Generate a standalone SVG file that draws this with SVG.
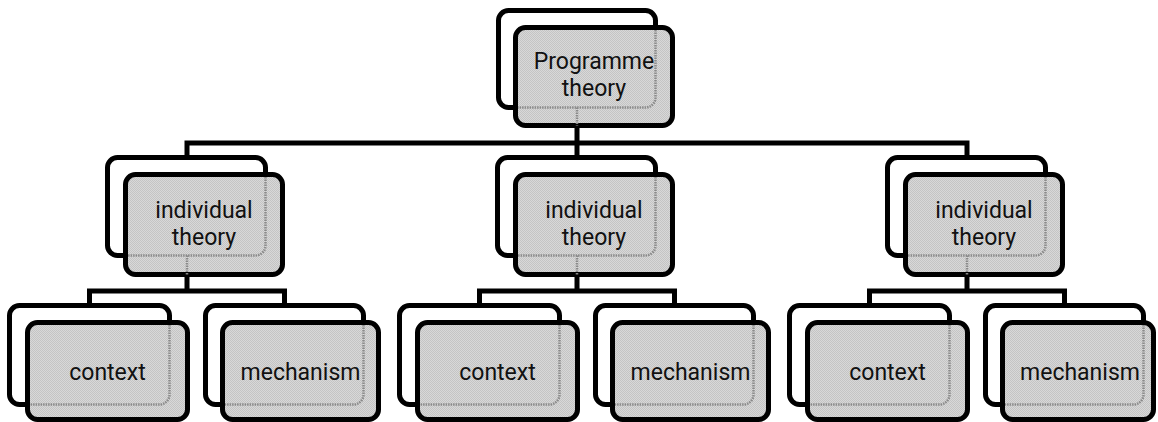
<svg xmlns="http://www.w3.org/2000/svg" width="1158" height="422" viewBox="0 0 1158 422">
  <defs>
    <pattern id="dither" width="2" height="2" patternUnits="userSpaceOnUse">
      <rect width="2" height="2" fill="#d8d8d8"/>
      <rect width="1" height="1" fill="#c4c4c4"/>
      <rect x="1" y="1" width="1" height="1" fill="#c4c4c4"/>
    </pattern>
  </defs>
  <style>
    .back { fill: #ffffff; stroke: #000000; stroke-width: 5; }
    .front { fill: url(#dither); stroke: #000000; stroke-width: 5; }
    .ghost { fill: none; stroke: #8a8a8a; stroke-width: 2.5; stroke-dasharray: 1.5 1; }
    .conn { fill: none; stroke: #000000; stroke-width: 5; stroke-linejoin: miter; }
    .lbl { font-family: Roboto, "Liberation Sans", sans-serif; font-size: 23px; fill: #111111; text-anchor: middle; }
  </style>
  <rect width="1158" height="422" fill="#ffffff"/>

  <!-- Level 1 -->
  <g id="programme-theory">
    <rect class="back" x="498.5" y="10.5" width="157" height="97" rx="10"/>
    <rect class="front" x="515.5" y="27.5" width="157" height="98" rx="10"/>
    <path class="ghost" d="M655.5,30 V97.5 A10,10 0 0 1 645.5,107.5 H518 M577,107.5 V125.5"/>
    <text class="lbl" x="594" y="69">Programme</text>
    <text class="lbl" x="594" y="96">theory</text>
  </g>

  <!-- Level 2 -->
  <g id="individual-theory-1">
    <rect class="back" x="107.5" y="157.5" width="158" height="98" rx="10"/>
    <rect class="front" x="125.5" y="174.5" width="157" height="100" rx="10"/>
    <path class="ghost" d="M265.5,177 V245.5 A10,10 0 0 1 255.5,255.5 H128 M187,255.5 V275"/>
    <text class="lbl" x="204" y="218">individual</text>
    <text class="lbl" x="204" y="245">theory</text>
  </g>
  <g id="individual-theory-2" transform="translate(390,0)">
    <rect class="back" x="107.5" y="157.5" width="158" height="98" rx="10"/>
    <rect class="front" x="125.5" y="174.5" width="157" height="100" rx="10"/>
    <path class="ghost" d="M265.5,177 V245.5 A10,10 0 0 1 255.5,255.5 H128 M187,255.5 V275"/>
    <text class="lbl" x="204" y="218">individual</text>
    <text class="lbl" x="204" y="245">theory</text>
  </g>
  <g id="individual-theory-3" transform="translate(780,0)">
    <rect class="back" x="107.5" y="157.5" width="158" height="98" rx="10"/>
    <rect class="front" x="125.5" y="174.5" width="157" height="100" rx="10"/>
    <path class="ghost" d="M265.5,177 V245.5 A10,10 0 0 1 255.5,255.5 H128 M187,255.5 V275"/>
    <text class="lbl" x="204" y="218">individual</text>
    <text class="lbl" x="204" y="245">theory</text>
  </g>

  <!-- Level 3 -->
  <g id="context-1">
    <rect class="back" x="9.5" y="305.5" width="160" height="99" rx="10"/>
    <rect class="front" x="27.5" y="322.5" width="160" height="97" rx="10"/>
    <path class="ghost" d="M169.5,325 V394.5 A10,10 0 0 1 159.5,404.5 H30"/>
    <text class="lbl" x="107.5" y="380">context</text>
  </g>
  <g id="mechanism-1">
    <rect class="back" x="205.5" y="305.5" width="158" height="99" rx="10"/>
    <rect class="front" x="222.5" y="322.5" width="156" height="97" rx="10"/>
    <path class="ghost" d="M363.5,325 V394.5 A10,10 0 0 1 353.5,404.5 H225"/>
    <text class="lbl" x="300.5" y="380">mechanism</text>
  </g>
  <g id="context-2" transform="translate(390,0)">
    <rect class="back" x="9.5" y="305.5" width="160" height="99" rx="10"/>
    <rect class="front" x="27.5" y="322.5" width="160" height="97" rx="10"/>
    <path class="ghost" d="M169.5,325 V394.5 A10,10 0 0 1 159.5,404.5 H30"/>
    <text class="lbl" x="107.5" y="380">context</text>
  </g>
  <g id="mechanism-2" transform="translate(390,0)">
    <rect class="back" x="205.5" y="305.5" width="158" height="99" rx="10"/>
    <rect class="front" x="222.5" y="322.5" width="156" height="97" rx="10"/>
    <path class="ghost" d="M363.5,325 V394.5 A10,10 0 0 1 353.5,404.5 H225"/>
    <text class="lbl" x="300.5" y="380">mechanism</text>
  </g>
  <g id="context-3" transform="translate(780,0)">
    <rect class="back" x="9.5" y="305.5" width="160" height="99" rx="10"/>
    <rect class="front" x="27.5" y="322.5" width="160" height="97" rx="10"/>
    <path class="ghost" d="M169.5,325 V394.5 A10,10 0 0 1 159.5,404.5 H30"/>
    <text class="lbl" x="107.5" y="380">context</text>
  </g>
  <g id="mechanism-3" transform="translate(780,0)">
    <rect class="back" x="205.5" y="305.5" width="158" height="99" rx="10"/>
    <rect class="front" x="222.5" y="322.5" width="151" height="97" rx="10"/>
    <path class="ghost" d="M363.5,325 V394.5 A10,10 0 0 1 353.5,404.5 H225"/>
    <text class="lbl" x="300" y="380">mechanism</text>
  </g>

  <!-- Connectors -->
  <g id="connectors">
    <path class="conn" d="M577,128 V157"/>
    <path class="conn" d="M187,157 V143 H967 V157"/>
    <path class="conn" d="M187,277 V291"/>
    <path class="conn" d="M89.5,305 V291 H284.5 V305"/>
    <path class="conn" d="M577,277 V291"/>
    <path class="conn" d="M479.5,305 V291 H674.5 V305"/>
    <path class="conn" d="M967,277 V291"/>
    <path class="conn" d="M869.5,305 V291 H1064.5 V305"/>
  </g>
</svg>
